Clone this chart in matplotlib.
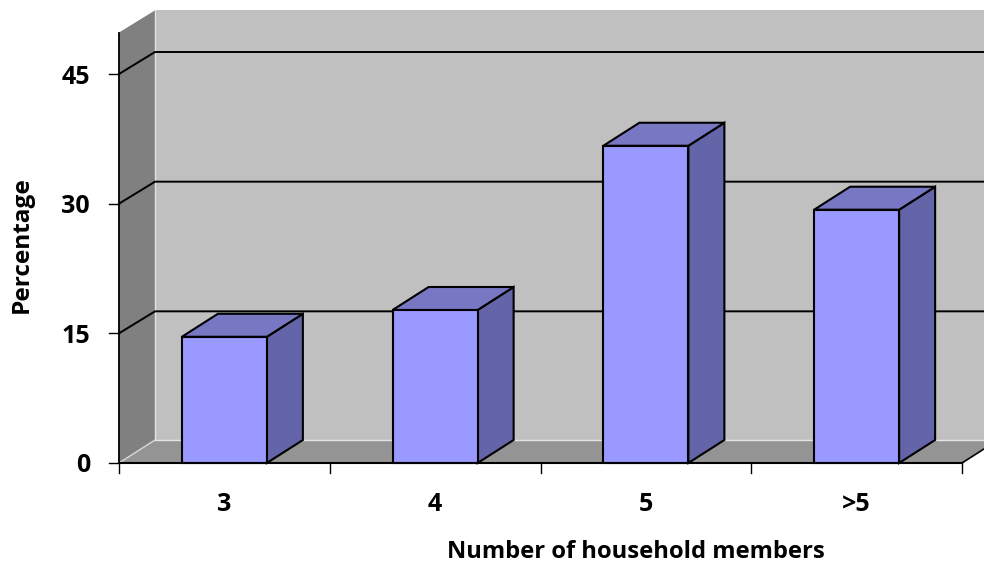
import matplotlib
matplotlib.use("Agg")
import matplotlib.pyplot as plt
from matplotlib.patches import Polygon

categories = ["3", "4", "5", ">5"]
percentages = [14.6, 17.7, 36.7, 29.3]
y_ticks = [0, 15, 30, 45]

W, H = 984, 563
plt.rcParams['font.family'] = ['Open Sans', 'DejaVu Sans']
fig = plt.figure(figsize=(W/100, H/100), dpi=100, facecolor='white')
L, R, B, T = 119, 962, 463, 74
ax = fig.add_axes([L/W, 1-B/H, (R-L)/W, (B-T)/H])
ax.set_xlim(0, 4)
ax.set_ylim(0, 45)
ax.axis('off')

px = (R-L)/4
py = (B-T)/45
DX = 36/px
DY = 23/py
GDY = 22/py
TOP = 49.8
WTOP = 49.7
BAR = 85/px


def poly(pts, fc, lw=1.5, ec='black', z=1):
    p = Polygon(pts, closed=True, facecolor=fc, edgecolor=ec, linewidth=lw,
                joinstyle='miter', zorder=z, clip_on=False)
    ax.add_patch(p)


# walls and floor
poly([(DX, DY), (5, DY), (5, WTOP+DY), (DX, WTOP+DY)], '#c0c0c0', ec='none', z=1)
poly([(0, 0), (DX, DY), (DX, WTOP+DY), (0, TOP)], '#808080', ec='none', z=1)
poly([(0, 0), (DX, DY), (5, DY), (4+DX, DY), (4, 0)], '#949494', ec='none', z=1)

# light seams between the walls and the floor
ax.plot([DX, DX], [DY, WTOP+DY], color='#e4e4e4', lw=1, zorder=1.5, clip_on=False)
ax.plot([DX, 5], [DY, DY], color='#e4e4e4', lw=1, zorder=1.5, clip_on=False)
ax.plot([0, DX], [0, DY], color='#d8d8d8', lw=1, zorder=1.5, clip_on=False)

# gridlines
for v in y_ticks[1:]:
    ax.plot([0, DX, 5], [v, v+GDY, v+GDY], color='black', lw=1.4, zorder=2, clip_on=False)
ax.plot([4, 4+DX], [0, DY], color='black', lw=1.2, zorder=2, clip_on=False)

# axes lines and ticks
ax.plot([0, 0], [0, TOP], color='black', lw=1.3, zorder=2, clip_on=False)
ax.plot([0, 4], [0, 0], color='black', lw=1.5, zorder=6, clip_on=False)
tick_x = 10/px
tick_y = 10/py
for v in y_ticks:
    ax.plot([-tick_x, 0], [v, v], color='black', lw=1, zorder=2, clip_on=False)
    ax.text(-29/px, v-3/py, str(v), ha='right', va='center', fontsize=18,
            fontweight='bold', clip_on=False)
for i in range(5):
    ax.plot([i, i], [0, -tick_y], color='black', lw=1, zorder=2, clip_on=False)

# bars
for i, (c, v) in enumerate(zip(categories, percentages)):
    x0 = i + 0.5 - BAR/2
    x1 = x0 + BAR
    poly([(x1, 0), (x1+DX, DY), (x1+DX, v+DY), (x1, v)], '#6464a8', z=3)
    poly([(x0, v), (x1, v), (x1+DX, v+DY), (x0+DX, v+DY)], '#7777c4', z=3)
    poly([(x0, 0), (x1, 0), (x1, v), (x0, v)], '#9999ff', z=4)
    ax.text(i+0.5, -41.5/py, c, ha='center', va='center', fontsize=18,
            fontweight='bold', clip_on=False)

fig.text(636/W, 1-552/H, "Number of household members", ha='center', va='center',
         fontsize=17.1, fontweight='bold')
fig.text(22/W, 1-245/H, "Percentage", ha='center', va='center', rotation=90,
         fontsize=17.6, fontweight='bold')

fig.savefig("out.png", dpi=100)
